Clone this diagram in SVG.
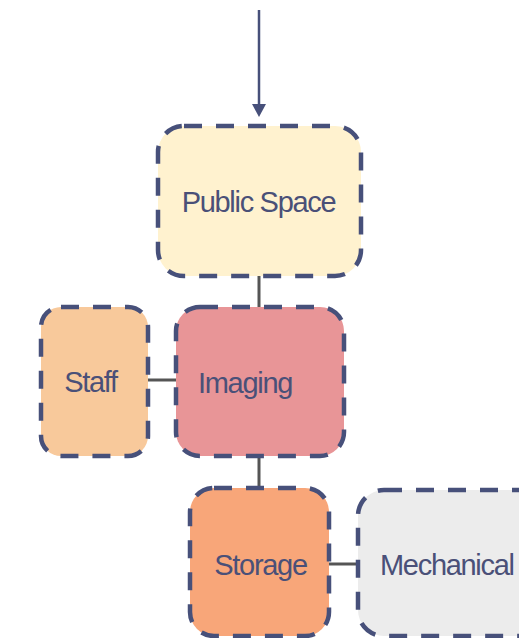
<svg xmlns="http://www.w3.org/2000/svg" width="519" height="638" viewBox="0 0 519 638">
<defs>
<style>
.node{stroke:#47507a;stroke-width:4.5;stroke-dasharray:18 14;}
.lbl{font-family:"Liberation Sans",Arial,sans-serif;font-size:29px;fill:#4a5078;letter-spacing:-1.3px;}
.conn{stroke:#555555;stroke-width:3;fill:none;}
</style>
</defs>
<rect width="519" height="638" fill="#ffffff"/>
<g id="connectors">
<line x1="259" y1="10" x2="259" y2="104" stroke="#47507a" stroke-width="2.5"/>
<path d="M252,104 L266,104 L259,117 Z" fill="#47507a"/>
<line class="conn" x1="259" y1="276" x2="259" y2="307"/>
<line class="conn" x1="148" y1="380" x2="176" y2="380"/>
<line class="conn" x1="259" y1="456" x2="259" y2="488"/>
<line class="conn" x1="329" y1="564" x2="357" y2="564"/>
</g>
<g id="public-space">
<rect class="node" x="158" y="126" width="203" height="150" rx="26" fill="#fff2cf"/>
<text class="lbl" x="258.5" y="212" text-anchor="middle">Public Space</text>
</g>
<g id="staff">
<rect class="node" x="41" y="307" width="107" height="149" rx="20" fill="#f8c99b"/>
<text class="lbl" x="90.5" y="392" text-anchor="middle">Staff</text>
</g>
<g id="imaging">
<rect class="node" x="176" y="307" width="168" height="149" rx="24" fill="#e89597"/>
<text class="lbl" x="198" y="393">Imaging</text>
</g>
<g id="storage">
<rect class="node" x="190" y="488" width="139" height="148" rx="24" fill="#f8a679"/>
<text class="lbl" x="260.5" y="575" text-anchor="middle">Storage</text>
</g>
<g id="mechanical">
<rect class="node" x="358" y="490" width="200" height="146" rx="26" fill="#ececec"/>
<text class="lbl" x="380" y="575">Mechanical</text>
</g>
</svg>
